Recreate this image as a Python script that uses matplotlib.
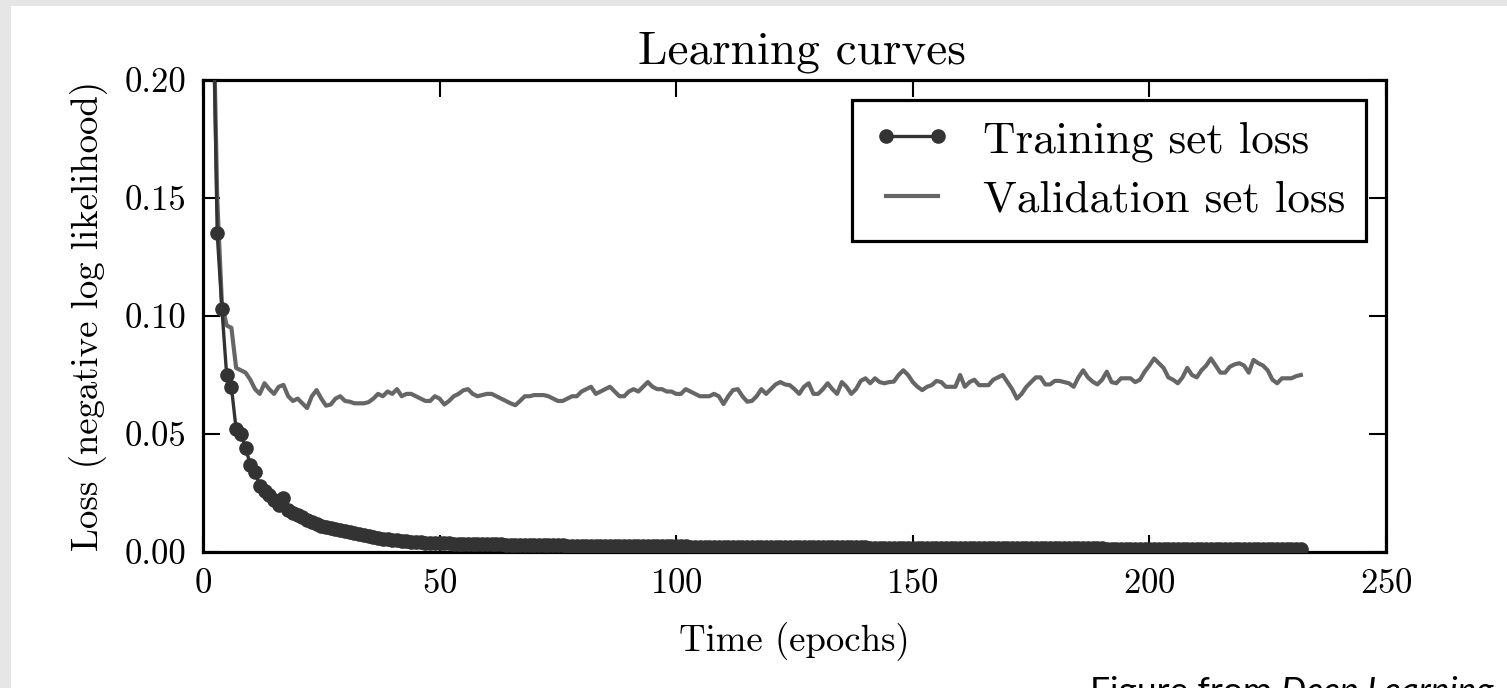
import numpy as np
import matplotlib
matplotlib.use("Agg")
import matplotlib.pyplot as plt
from matplotlib.patches import Rectangle
from matplotlib.ticker import FormatStrFormatter

plt.rcParams['font.family'] = 'serif'
plt.rcParams['font.serif'] = ['cmr10', 'DejaVu Serif']
plt.rcParams['mathtext.fontset'] = 'cm'
plt.rcParams['axes.formatter.use_mathtext'] = True

# epochs 1..232
epochs = np.arange(1, 233)

# training set loss (one value per epoch)
train_loss = [
    0.60, 0.25, 0.135, 0.103, 0.075, 0.070, 0.052, 0.050, 0.044, 0.037,
    0.034, 0.028, 0.026, 0.024, 0.022, 0.020, 0.023, 0.018, 0.0165, 0.0155,
    0.015, 0.0135, 0.0128, 0.012, 0.0112, 0.0107, 0.0101, 0.0097, 0.0093, 0.0088,
    0.0083, 0.0080, 0.0076, 0.0072, 0.0068, 0.0065, 0.0061, 0.0057, 0.0054, 0.0051,
    0.0049, 0.0047, 0.0046, 0.0044, 0.0043, 0.0041, 0.0040, 0.0040, 0.0039, 0.0038,
    0.0037, 0.0037, 0.0036, 0.0036, 0.0035, 0.0035, 0.0034, 0.0034, 0.0033, 0.0033,
    0.0032, 0.0032, 0.0032, 0.0031, 0.0031, 0.0031, 0.0030, 0.0030, 0.0030, 0.0029,
    0.0029, 0.0029, 0.0028, 0.0028, 0.0028, 0.0028, 0.0027, 0.0027, 0.0027, 0.0027,
    0.0026, 0.0026, 0.0026, 0.0026, 0.0026, 0.0025, 0.0025, 0.0025, 0.0025, 0.0025,
    0.0025, 0.0025, 0.0025, 0.0024, 0.0024, 0.0024, 0.0024, 0.0024, 0.0024, 0.0024,
    0.0024, 0.0024, 0.0023, 0.0023, 0.0023, 0.0023, 0.0023, 0.0023, 0.0023, 0.0023,
    0.0022, 0.0022, 0.0022, 0.0022, 0.0022, 0.0022, 0.0022, 0.0022, 0.0022, 0.0022,
    0.0021, 0.0021, 0.0021, 0.0021, 0.0021, 0.0021, 0.0021, 0.0021, 0.0021, 0.0021,
    0.0020, 0.0020, 0.0020, 0.0020, 0.0020, 0.0020, 0.0020, 0.0020, 0.0020, 0.0020,
    0.0019, 0.0019, 0.0019, 0.0019, 0.0019, 0.0019, 0.0019, 0.0019, 0.0019, 0.0019,
    0.0018, 0.0018, 0.0018, 0.0018, 0.0018, 0.0018, 0.0018, 0.0018, 0.0018, 0.0018,
    0.0017, 0.0017, 0.0017, 0.0017, 0.0017, 0.0017, 0.0017, 0.0017, 0.0017, 0.0017,
    0.0016, 0.0016, 0.0016, 0.0016, 0.0016, 0.0016, 0.0016, 0.0016, 0.0016, 0.0016,
    0.0015, 0.0015, 0.0015, 0.0015, 0.0015, 0.0015, 0.0015, 0.0015, 0.0015, 0.0015,
    0.0014, 0.0014, 0.0014, 0.0014, 0.0014, 0.0014, 0.0014, 0.0014, 0.0014, 0.0014,
    0.0013, 0.0013, 0.0013, 0.0013, 0.0013, 0.0013, 0.0013, 0.0013, 0.0013, 0.0013,
    0.0012, 0.0012, 0.0012, 0.0012, 0.0012, 0.0012, 0.0012, 0.0012, 0.0012, 0.0012,
    0.0011, 0.0011, 0.0011, 0.0011, 0.0011, 0.0011, 0.0011, 0.0011, 0.0011, 0.0011,
    0.0011, 0.0011,
]

# validation set loss
valid_loss = [
    0.55, 0.25, 0.15, 0.105, 0.096, 0.095, 0.078, 0.077, 0.076, 0.073,
    0.069, 0.067, 0.0715, 0.069, 0.067, 0.070, 0.0708, 0.066, 0.064, 0.065,
    0.063, 0.061, 0.066, 0.0686, 0.065, 0.062, 0.0625, 0.065, 0.066, 0.064,
    0.0637, 0.063, 0.063, 0.063, 0.0635, 0.065, 0.067, 0.066, 0.068, 0.067,
    0.069, 0.066, 0.067, 0.067, 0.066, 0.065, 0.064, 0.064, 0.066, 0.065,
    0.0625, 0.064, 0.066, 0.067, 0.0685, 0.069, 0.067, 0.066, 0.0665, 0.067,
    0.067, 0.066, 0.065, 0.064, 0.063, 0.0622, 0.064, 0.066, 0.066, 0.0665,
    0.0665, 0.0665, 0.066, 0.065, 0.064, 0.064, 0.065, 0.066, 0.066, 0.068,
    0.069, 0.070, 0.067, 0.068, 0.069, 0.070, 0.068, 0.066, 0.066, 0.068,
    0.069, 0.068, 0.070, 0.072, 0.070, 0.069, 0.069, 0.068, 0.068, 0.067,
    0.067, 0.069, 0.068, 0.067, 0.066, 0.066, 0.066, 0.067, 0.066, 0.0627,
    0.066, 0.0686, 0.069, 0.066, 0.0637, 0.064, 0.066, 0.069, 0.067, 0.069,
    0.071, 0.072, 0.071, 0.0707, 0.069, 0.067, 0.070, 0.0715, 0.067, 0.067,
    0.069, 0.0715, 0.069, 0.067, 0.072, 0.070, 0.067, 0.069, 0.0725, 0.0736,
    0.0715, 0.0736, 0.072, 0.0715, 0.072, 0.0722, 0.075, 0.077, 0.075, 0.072,
    0.070, 0.0686, 0.070, 0.0707, 0.0725, 0.072, 0.070, 0.070, 0.070, 0.075,
    0.070, 0.072, 0.073, 0.0707, 0.0707, 0.0707, 0.073, 0.074, 0.075, 0.072,
    0.069, 0.065, 0.067, 0.070, 0.072, 0.074, 0.074, 0.071, 0.071, 0.0725,
    0.0725, 0.072, 0.0715, 0.070, 0.074, 0.077, 0.074, 0.0722, 0.071, 0.073,
    0.0764, 0.072, 0.0715, 0.0736, 0.0736, 0.0736, 0.072, 0.073, 0.0764, 0.079,
    0.082, 0.080, 0.078, 0.074, 0.073, 0.0715, 0.074, 0.078, 0.075, 0.074,
    0.077, 0.079, 0.082, 0.079, 0.076, 0.076, 0.0785, 0.0795, 0.080, 0.079,
    0.076, 0.0814, 0.080, 0.079, 0.077, 0.073, 0.0715, 0.0736, 0.0736, 0.0736,
    0.0745, 0.075,
]

x_ticks = [0, 50, 100, 150, 200, 250]
y_ticks = [0.00, 0.05, 0.10, 0.15, 0.20]

fig = plt.figure(figsize=(15.07, 6.88), dpi=100, facecolor='#e6e6e6')
# white slide area (grey strip only on top and left)
fig.add_artist(Rectangle((11 / 1507, 0), 1, 1 - 6 / 688, transform=fig.transFigure,
                         facecolor='white', edgecolor='none', zorder=0))

ax = fig.add_axes([203 / 1507, 1 - 552 / 688, (1386 - 203) / 1507, (552 - 80) / 688])

ax.plot(epochs, valid_loss, '-', color='#666666', lw=3.0, label='Validation set loss', zorder=2)
ax.plot(epochs, train_loss, '-o', color='#333333', lw=2.4, ms=9.5, label='Training set loss', zorder=3)

ax.set_xlim(0, 250)
ax.set_ylim(0, 0.20)
ax.set_xticks(x_ticks)
ax.set_yticks(y_ticks)
ax.yaxis.set_major_formatter(FormatStrFormatter('%.2f'))
ax.tick_params(direction='in', length=12, width=1.5, top=True, right=True,
               labelsize=25, pad=12)
for s in ax.spines.values():
    s.set_linewidth(2.3)

ax.set_title('Learning curves', fontsize=34, pad=12, x=0.506)
ax.set_xlabel('Time (epochs)', fontsize=26.5, labelpad=16)
ax.set_ylabel('Loss (negative log likelihood)', fontsize=26.5, labelpad=12)

h, l = ax.get_legend_handles_labels()
leg = ax.legend(h[::-1], l[::-1], loc='upper right', fontsize=32.5, numpoints=2,
                fancybox=False, framealpha=1, edgecolor='black',
                borderaxespad=0.45, handlelength=1.75, handletextpad=0.7,
                borderpad=0.45, labelspacing=0.4)
leg.get_frame().set_linewidth(2.3)

# source note at the bottom right, partly cut off by the bottom edge
t1 = fig.text(1090 / 1507, 1 - 676 / 688, 'Figure from ', family='Lato', fontsize=25.5,
              va='top', ha='left')
fig.canvas.draw()
bb = t1.get_window_extent(renderer=fig.canvas.get_renderer())
fig.text(bb.x1 / fig.bbox.width, 1 - 676 / 688, 'Deep Learning', family='Lato', style='italic',
         fontsize=25.5, va='top', ha='left')

fig.savefig('out.png', dpi=100, facecolor=fig.get_facecolor())
